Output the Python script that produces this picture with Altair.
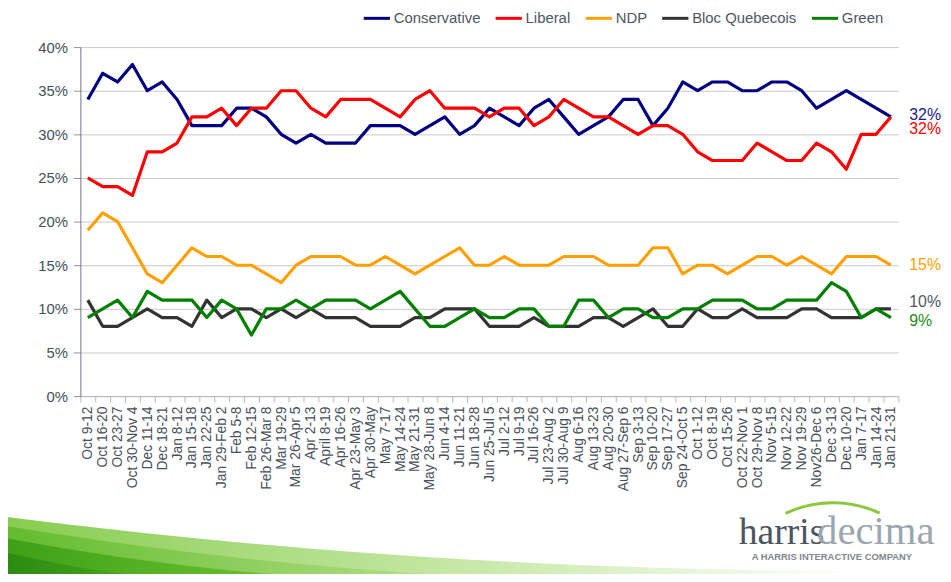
import altair as alt
import pandas as pd
import numpy as np

periods = [
    "Oct 9-12", "Oct 16-20", "Oct 23-27", "Oct 30-Nov 4", "Dec 11-14", "Dec 18-21",
    "Jan 8-12", "Jan 15-18", "Jan 22-25", "Jan 29-Feb 2", "Feb 5-8", "Feb 12-15",
    "Feb 26-Mar 8", "Mar 19-29", "Mar 26-Apr 5", "Apr 2-13", "April 8-19", "Apr 16-26",
    "Apr 23-May 3", "Apr 30-May", "May 7-17", "May 14-24", "May 21-31", "May 28-Jun 8",
    "Jun 4-14", "Jun 11-21", "Jun 18-28", "Jun 25-Jul 5", "Jul 2-12", "Jul 9-19",
    "Jul 16-26", "Jul 23-Aug 2", "Jul 30-Aug 9", "Aug 6-16", "Aug 13-23", "Aug 20-30",
    "Aug 27-Sep 6", "Sep 3-13", "Sep 10-20", "Sep 17-27", "Sep 24-Oct 5", "Oct 1-12",
    "Oct 8-19", "Oct 15-26", "Oct 22-Nov 1", "Oct 29-Nov 8", "Nov 5-15", "Nov 12-22",
    "Nov 19-29", "Nov26-Dec 6", "Dec 3-13", "Dec 10-20", "Jan 7-17", "Jan 14-24", "Jan 21-31",
]

conservative = [34, 37, 36, 38, 35, 36, 34, 31, 31, 31, 33, 33, 32, 30, 29, 30, 29, 29, 29, 31,
                31, 31, 30, 31, 32, 30, 31, 33, 32, 31, 33, 34, 32, 30, 31, 32, 34, 34, 31, 33,
                36, 35, 36, 36, 35, 35, 36, 36, 35, 33, 34, 35, 34, 33, 32]
liberal = [25, 24, 24, 23, 28, 28, 29, 32, 32, 33, 31, 33, 33, 35, 35, 33, 32, 34, 34, 34,
           33, 32, 34, 35, 33, 33, 33, 32, 33, 33, 31, 32, 34, 33, 32, 32, 31, 30, 31, 31,
           30, 28, 27, 27, 27, 29, 28, 27, 27, 29, 28, 26, 30, 30, 32]
ndp = [19, 21, 20, 17, 14, 13, 15, 17, 16, 16, 15, 15, 14, 13, 15, 16, 16, 16, 15, 15,
       16, 15, 14, 15, 16, 17, 15, 15, 16, 15, 15, 15, 16, 16, 16, 15, 15, 15, 17, 17,
       14, 15, 15, 14, 15, 16, 16, 15, 16, 15, 14, 16, 16, 16, 15]
bloc = [11, 8, 8, 9, 10, 9, 9, 8, 11, 9, 10, 10, 9, 10, 9, 10, 9, 9, 9, 8,
        8, 8, 9, 9, 10, 10, 10, 8, 8, 8, 9, 8, 8, 8, 9, 9, 8, 9, 10, 8,
        8, 10, 9, 9, 10, 9, 9, 9, 10, 10, 9, 9, 9, 10, 10]
green = [9, 10, 11, 9, 12, 11, 11, 11, 9, 11, 10, 7, 10, 10, 11, 10, 11, 11, 11, 10,
         11, 12, 10, 8, 8, 9, 10, 9, 9, 10, 10, 8, 8, 11, 11, 9, 10, 10, 9, 9,
         10, 10, 11, 11, 11, 10, 10, 11, 11, 11, 13, 12, 9, 10, 9]

series_names = ["Conservative", "Liberal", "NDP", "Bloc Quebecois", "Green"]
series_values = [conservative, liberal, ndp, bloc, green]
series_colors = ["#000080", "#ff0000", "#ffa000", "#333333", "#008000"]
y_ticks = [0, 5, 10, 15, 20, 25, 30, 35, 40]

# styling of the end-of-line labels (colour, vertical nudge in px)
end_label_style = {
    "Conservative": ("#1c1c8a", -2),
    "Liberal": ("#ff0000", 12),
    "NDP": ("#ffa000", 0),
    "Bloc Quebecois": ("#4d5864", -7),
    "Green": ("#1e8a1e", 4),
}

FONT = "Liberation Sans"
W, H = 825, 352

rows = []
for name, vals in zip(series_names, series_values):
    for p, v in zip(periods, vals):
        rows.append({"period": p, "party": name, "value": v})
df = pd.DataFrame(rows)

x_enc = alt.X(
    "period:N", sort=periods, bandPosition=0.5,
    scale=alt.Scale(type="band", paddingInner=0, paddingOuter=0),
    axis=alt.Axis(title=None, labelAngle=-90, labelAlign="right", labelBaseline="middle",
                  tickBand="extent", tickSize=6, tickColor="#b8b8b8", domainColor="#b8b8b8",
                  labelFont=FONT, labelFontSize=14, labelColor="#46505a", labelPadding=4,
                  grid=False, labelOverlap=False),
)
y_scale = alt.Scale(domain=[0, 40], nice=False)
y_axis = alt.Axis(title=None, values=y_ticks, labelExpr="datum.value + '%'",
                  labelFont=FONT, labelFontSize=15, labelColor="#46505a", labelPadding=6,
                  tickSize=7, tickColor="#8a939c", domainColor="#6b7580",
                  grid=True, gridColor="#c8c8c8", gridWidth=1)
y_enc = alt.Y("value:Q", scale=y_scale, axis=y_axis)

lines = alt.Chart(df).mark_line(strokeWidth=3.2, strokeJoin="round").encode(
    x=x_enc,
    y=y_enc,
    color=alt.Color(
        "party:N", sort=series_names,
        scale=alt.Scale(domain=series_names, range=series_colors),
        legend=alt.Legend(
            title=None, orient="none", direction="horizontal", legendX=284, legendY=-44,
            symbolType="stroke", symbolSize=700, symbolStrokeWidth=3,
            labelFont=FONT, labelFontSize=15, labelColor="#4d5864",
            columnPadding=8, labelOffset=2,
        ),
    ),
)

layers = [lines]

last = df[df["period"] == periods[-1]]
for name in series_names:
    col, dy = end_label_style[name]
    sub = last[last["party"] == name].assign(lbl=lambda d: d["value"].astype(int).astype(str) + "%")
    layers.append(
        alt.Chart(sub).mark_text(align="left", baseline="middle", font=FONT, fontSize=16,
                                 color=col, dy=dy).encode(
            x=alt.value(836),
            y=y_enc,
            text="lbl:N",
        )
    )

# decorative green swoosh at the bottom (view-pixel coordinates)
def swoosh(y_start, y_end, length, c1, c2, mid):
    xs = np.linspace(-81, -81 + length, 60)
    t = (xs - xs[0]) / length
    top = y_start + (y_end - y_start) * (1 - (1 - t) ** 2)
    d = pd.DataFrame({"sx": xs, "sy": top, "sy2": np.full_like(xs, 540.0)})
    grad = alt.Gradient(gradient="linear", x1=0, x2=1, y1=0, y2=0,
                        stops=[alt.GradientStop(color=c1, offset=0),
                               alt.GradientStop(color=c2, offset=mid),
                               alt.GradientStop(color="#ffffff", offset=1)])
    return alt.Chart(d).mark_area(color=grad, opacity=1).encode(
        x=alt.X("sx:Q", scale=None), y=alt.Y("sy:Q", scale=None), y2="sy2:Q")

layers.append(swoosh(473, 528, 860, "#86cc4e", "#cdebb0", 0.6))
layers.append(swoosh(482, 540, 700, "#62bb2c", "#a8da7a", 0.55))
layers.append(swoosh(494, 540, 480, "#3d9f16", "#6cc232", 0.6))
layers.append(swoosh(508, 540, 260, "#2a8a10", "#4aa820", 0.6))

def txt(s, x, y, size, color, font=FONT, weight="normal"):
    return alt.Chart(pd.DataFrame({"t": [s]})).mark_text(
        align="left", baseline="alphabetic", font=font, fontSize=size, color=color,
        fontWeight=weight,
    ).encode(text="t:N", x=alt.value(x), y=alt.value(y))

# logo arc
layers.append(
    alt.Chart(pd.DataFrame({"a": [0]})).mark_arc(
        radius=113, radius2=110, theta=5.84, theta2=6.72, color="#8cc83c"
    ).encode(x=alt.value(759), y=alt.value(571))
)
layers.append(txt("harris", 664, 501, 38, "#4a5560", "Liberation Sans Narrow"))
layers.append(txt("decima", 743, 501, 41, "#9aa6b0", "Liberation Sans Narrow"))
layers.append(txt("A HARRIS INTERACTIVE COMPANY", 677, 517, 9.5, "#7d8790", FONT, "bold"))

chart = alt.layer(*layers).properties(
    width=W, height=H,
    autosize=alt.AutoSizeParams(type="none"),
    padding={"left": 73, "top": 37, "right": 45, "bottom": 177},
).configure_view(stroke=None)

chart.save("out.html", embed_options={"renderer": "svg", "actions": False})
